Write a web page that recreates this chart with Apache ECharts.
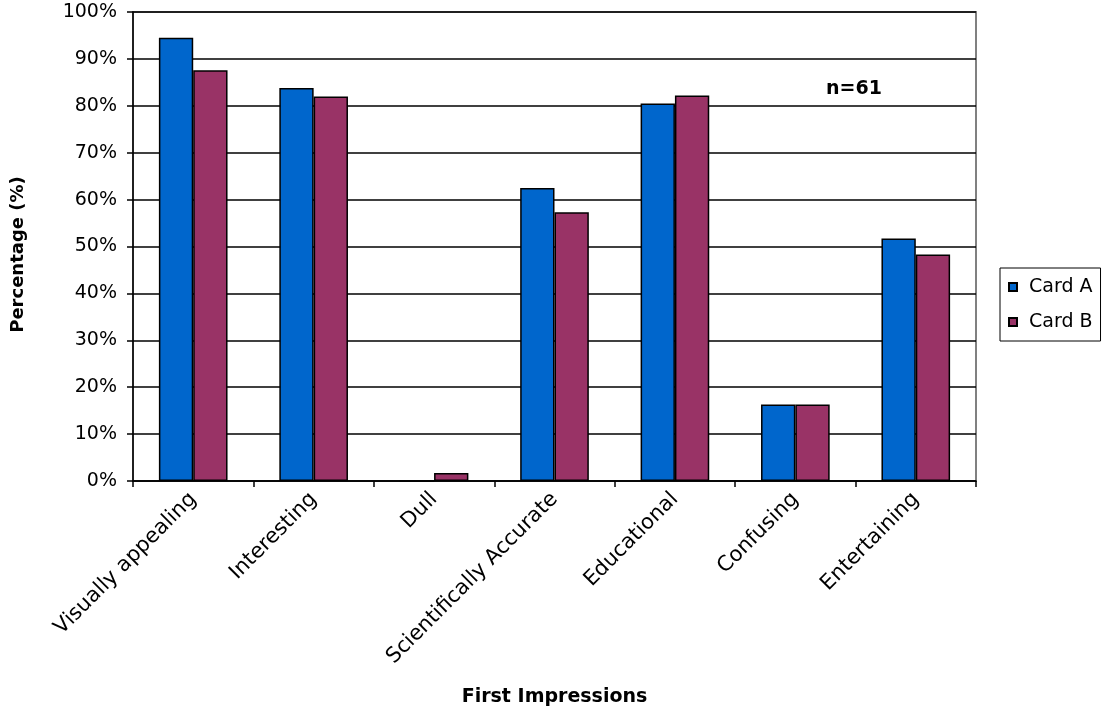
<!DOCTYPE html>
<html>
<head>
<meta charset="utf-8">
<script src="https://cdn.jsdelivr.net/npm/echarts@6/dist/echarts.min.js"></script>
<style>
  html, body { margin: 0; padding: 0; background: #fff; }
  #chart { width: 1103px; height: 711px; }
</style>
</head>
<body>
<div id="chart"></div>
<script>
// Survey responses: first impressions of two cards (percent of respondents)
const categories = ['Visually appealing', 'Interesting', 'Dull', 'Scientifically Accurate', 'Educational', 'Confusing', 'Entertaining'];
const cardA = [94.5, 83.8, 0, 62.5, 80.5, 16.3, 51.7];
const cardB = [87.6, 82.0, 1.7, 57.3, 82.2, 16.3, 48.3];
const seriesNames = ['Card A', 'Card B'];
const sampleNote = 'n=61';

const FONT = '"DejaVu Sans", "Liberation Sans", Arial, sans-serif';
const chart = echarts.init(document.getElementById('chart'), null, { renderer: 'canvas' });

chart.setOption({
  animation: false,
  backgroundColor: '#ffffff',
  textStyle: { fontFamily: FONT, color: '#000' },
  title: {
    text: sampleNote,
    left: 826, top: 80, padding: 0,
    textStyle: { fontFamily: FONT, fontSize: 19, fontWeight: 'bold', color: '#000' }
  },
  grid: {
    left: 133, right: 127, top: 12, bottom: 230,
    containLabel: false,
    outerBoundsMode: 'none',
    show: true, borderColor: '#808080', borderWidth: 2, backgroundColor: '#fff'
  },
  legend: {
    orient: 'vertical',
    left: 1000, top: 268,
    padding: [8, 8, 8, 8],
    itemGap: 13,
    itemWidth: 8, itemHeight: 8,
    icon: 'rect',
    borderColor: '#000', borderWidth: 1,
    textStyle: { fontFamily: FONT, fontSize: 19, lineHeight: 22, color: '#000', padding: [0, 0, 0, 7] },
    data: seriesNames
  },
  xAxis: {
    type: 'category',
    data: categories,
    boundaryGap: true,
    name: 'First Impressions',
    nameLocation: 'middle',
    nameGap: 207,
    nameTextStyle: { fontFamily: FONT, fontSize: 19, fontWeight: 'bold', color: '#000' },
    axisLine: { lineStyle: { color: '#000', width: 1.5 } },
    axisTick: { show: true, length: 6, lineStyle: { color: '#000', width: 1.5 } },
    axisLabel: { rotate: 45, margin: 15, fontFamily: FONT, fontSize: 21, color: '#000', interval: 0 },
    splitLine: { show: false }
  },
  yAxis: {
    type: 'value',
    min: 0, max: 100, interval: 10,
    name: 'Percentage (%)',
    nameLocation: 'middle',
    nameGap: 106,
    nameTextStyle: { fontFamily: FONT, fontSize: 18, fontWeight: 'bold', color: '#000', padding: [0, 16, 0, 0] },
    axisLine: { show: true, lineStyle: { color: '#000', width: 1.5 } },
    axisTick: { show: true, length: 6, lineStyle: { color: '#000', width: 1.5 } },
    axisLabel: { formatter: '{value}%', margin: 16, fontFamily: FONT, fontSize: 19, color: '#000' },
    splitLine: { show: true, lineStyle: { color: '#000', width: 1.5 } }
  },
  series: [
    {
      name: seriesNames[0], type: 'bar', data: cardA,
      barGap: '0%', barCategoryGap: '43%',
      itemStyle: { color: '#0066CC', borderColor: '#000', borderWidth: 1.5 }
    },
    {
      name: seriesNames[1], type: 'bar', data: cardB,
      barGap: '0%', barCategoryGap: '43%',
      itemStyle: { color: '#993366', borderColor: '#000', borderWidth: 1.5 }
    }
  ]
});
</script>
</body>
</html>
